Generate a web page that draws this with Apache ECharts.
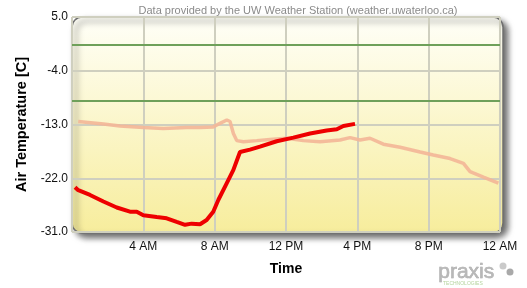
<!DOCTYPE html>
<html>
<head>
<meta charset="utf-8">
<script src="https://cdn.jsdelivr.net/npm/echarts@6/dist/echarts.min.js"></script>
<style>html,body{margin:0;padding:0;background:#fff}#c{width:527px;height:288px}</style>
</head>
<body>
<div id="c"></div>
<script>
// Hours since midnight and air temperature [C]
const todayHours = [0.17,0.35,1.01,1.76,2.51,3.25,3.63,4.0,4.75,5.31,5.87,6.34,6.71,7.18,7.55,7.92,8.21,8.68,9.05,9.42,9.98,10.54,11.48,12.41,13.35,14.28,14.85,15.22,15.87];
const todayTemp  = [-23.5,-24.0,-24.8,-25.9,-26.9,-27.6,-27.6,-28.2,-28.5,-28.7,-29.3,-29.8,-29.6,-29.7,-29.0,-27.6,-25.6,-22.8,-20.6,-17.6,-17.2,-16.7,-15.8,-15.2,-14.5,-14.0,-13.8,-13.25,-12.9];
const prevHours = [0.35,1.76,2.69,4.0,5.12,6.43,7.18,7.92,8.30,8.68,8.86,9.05,9.24,9.61,10.36,11.10,12.04,12.97,13.91,15.03,15.59,16.15,16.71,17.46,18.40,19.52,20.26,21.20,21.95,22.32,23.07,23.91];
const prevTemp  = [-12.5,-12.9,-13.25,-13.5,-13.65,-13.5,-13.5,-13.4,-12.8,-12.25,-12.5,-14.5,-15.7,-15.9,-15.7,-15.5,-15.3,-15.7,-15.9,-15.6,-15.2,-15.6,-15.3,-16.3,-16.8,-17.6,-18.1,-18.7,-19.5,-20.9,-21.8,-22.8];
const limitLines = [0.3, -9.0];
const xTickLabels = {4:'4 AM',8:'8 AM',12:'12 PM',16:'4 PM',20:'8 PM',24:'12 AM'};

const chart = echarts.init(document.getElementById('c'), null, {renderer:'canvas'});
const G = {left:72, top:17, width:428, height:215};
const font = 'Liberation Sans, Arial, sans-serif';
chart.setOption({
  animation:false,
  title:{text:'Data provided by the UW Weather Station (weather.uwaterloo.ca)', left:293, textAlign:'center', top:0,
    textStyle:{fontSize:11, fontWeight:'normal', color:'#8a8a8a', fontFamily:font}},
  graphic:[
    {type:'rect', z:-10, silent:true, shape:{x:G.left, y:G.top, width:G.width+3, height:G.height+1, r:10},
     style:{fill:new echarts.graphic.LinearGradient(0,0,0,1,[{offset:0,color:'#fffff8'},{offset:1,color:'#f7ed9c'}]),
       stroke:'#707070', lineWidth:1.5, shadowBlur:6, shadowOffsetX:4, shadowOffsetY:4, shadowColor:'rgba(0,0,0,0.6)'}},
    {type:'text', left:438, top:261, silent:true, style:{text:'praxis', fontSize:21, fontFamily:font, fill:'#b8b8b8', stroke:'#9a9a9a', lineWidth:0.5}},
    {type:'text', left:443, top:281, silent:true, style:{text:'TECHNOLOGIES', fontSize:5, fontFamily:font, fill:'#b5d49e'}},
    {type:'circle', silent:true, shape:{cx:503, cy:266, r:3.5}, style:{fill:'#cacaca'}},
    {type:'circle', silent:true, shape:{cx:510, cy:272, r:3.5}, style:{fill:'#a9a9a9'}}
  ],
  grid:{left:G.left, top:G.top, width:G.width, height:G.height, containLabel:false},
  xAxis:{type:'value', min:0, max:24, interval:4,
    name:'Time', nameLocation:'middle', nameGap:30,
    nameTextStyle:{fontSize:14, fontWeight:'bold', color:'#000', fontFamily:font},
    axisLine:{show:false}, axisTick:{show:false},
    axisLabel:{color:'#111', fontSize:12, fontFamily:font, margin:9, showMinLabel:false,
      formatter:v=>xTickLabels[v]||''},
    splitLine:{show:true, lineStyle:{color:'#cfcfbf', width:2}}},
  yAxis:{type:'value', min:-31, max:5, interval:9,
    name:'Air Temperature [C]', nameLocation:'middle', nameGap:40,
    nameTextStyle:{fontSize:14.5, fontWeight:'bold', color:'#000', fontFamily:font},
    axisLine:{show:false}, axisTick:{show:false},
    axisLabel:{color:'#111', fontSize:12, fontFamily:font, margin:4, formatter:v=>v.toFixed(1)},
    splitLine:{show:true, lineStyle:{color:'#cfcfbf', width:2}}},
  series:[
    {type:'line', data:prevHours.map((h,i)=>[h,prevTemp[i]]), symbol:'none', z:3,
     lineStyle:{color:'#f3b697', width:3.5, opacity:0.9},
     markLine:{silent:true, symbol:'none', label:{show:false},
       lineStyle:{color:'#6fa05a', width:2, type:'solid'},
       data:limitLines.map(v=>({yAxis:v}))}},
    {type:'line', data:todayHours.map((h,i)=>[h,todayTemp[i]]), symbol:'none', z:4,
     lineStyle:{color:'#ee0000', width:4}}
  ]
});
</script>
</body>
</html>
